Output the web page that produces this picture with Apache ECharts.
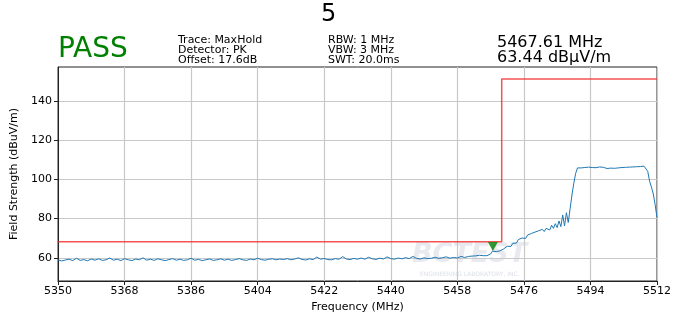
<!DOCTYPE html>
<html>
<head>
<meta charset="utf-8">
<script src="https://cdn.jsdelivr.net/npm/echarts@6/dist/echarts.min.js"></script>
<style>
html, body { margin: 0; padding: 0; background: #fff; }
#chart { width: 673px; height: 318px; }
</style>
</head>
<body>
<div id="chart"></div>
<script>
// sweep 5350..5460 MHz, 1 MHz step
var lowStart = 5350, lowStep = 1;
var lowLevels = [
    59.0, 58.4, 58.9, 59.3, 58.6, 59.8, 58.7, 59.1, 58.5, 59.4, 58.8, 59.5, 58.7, 59.0, 59.9, 58.8, 59.3, 58.6, 59.6, 59.0, 58.6,
    59.4, 59.0, 60.0, 58.8, 59.3, 58.7, 59.5, 59.0, 58.6, 59.1, 59.6, 58.8, 59.3, 58.7, 59.0, 59.8, 58.8, 59.2, 58.6, 59.0,
    59.4, 58.7, 59.0, 59.5, 58.8, 59.3, 58.7, 59.1, 59.6, 59.0, 58.7, 59.4, 59.0, 59.8, 59.1, 58.8, 59.3, 59.5, 59.0, 59.4,
    59.1, 59.6, 59.0, 59.4, 60.0, 59.2, 58.9, 59.5, 59.1, 60.4, 59.3, 59.7, 59.1, 59.0, 59.6, 59.3, 60.6, 59.4, 59.1, 59.7,
    59.3, 59.9, 59.3, 60.3, 59.5, 59.2, 59.8, 59.4, 60.5, 59.6, 59.3, 59.9, 59.5, 60.1, 59.6, 60.7, 59.7, 59.4, 60.0, 59.6,
    59.8, 60.3, 59.7, 60.1, 60.5, 59.8, 60.2, 59.9, 60.7, 60.2
];
// sweep 5460.5..5512 MHz, 0.5 MHz step
var highStart = 5460.5, highStep = 0.5;
var highLevels = [
    60.3, 60.7, 60.2, 60.9, 60.5, 61.0, 60.6, 61.3, 60.8, 61.1, 61.5, 61.1, 61.7, 62.0, 63.4,
    62.7, 63.2, 62.8, 63.5, 63.8, 64.5, 64.9, 65.9, 66.4, 65.8, 67.4, 68.3, 67.5, 69.3, 68.3,
    70.1, 70.6, 69.9, 71.6, 70.7, 72.4, 71.4, 73.1, 72.1, 73.8, 72.8, 74.5, 73.4, 75.0, 75.6,
    74.2, 76.6, 75.0, 77.4, 75.4, 78.8, 75.9, 81.8, 76.3, 83.0, 78.0, 85.0, 92.0, 98.0, 103.0,
    105.8, 106.3, 105.8, 106.7, 106.0, 106.9, 106.2, 107.0, 106.0, 106.6, 105.9, 105.8, 106.3, 105.6, 106.1,
    105.8, 105.5, 106.0, 105.7, 106.3, 105.6, 106.1, 105.8, 106.5, 106.0, 106.7, 106.1, 106.9, 106.2, 106.8,
    106.3, 107.1, 106.4, 107.0, 106.5, 107.3, 106.7, 107.5, 104.0, 99.0, 96.0, 92.5, 87.0, 80.5
];
var limitFreqs = [5350, 5470, 5470, 5512];
var limitLevels = [68.2, 68.2, 151.1, 151.1];
var markerFreq = [5467.61];
var markerLevel = [63.44];
var xTicks = [5350, 5368, 5386, 5404, 5422, 5440, 5458, 5476, 5494, 5512];
var yTicks = [60, 80, 100, 120, 140];

var trace = [];
lowLevels.forEach((v, i) => trace.push([lowStart + i * lowStep, v]));
highLevels.forEach((v, i) => trace.push([highStart + i * highStep, v]));
var limit = limitFreqs.map((f, i) => [f, limitLevels[i]]);
var marker = markerFreq.map((f, i) => [f, markerLevel[i]]);

var font = 'DejaVu Sans';
var chart = echarts.init(document.getElementById('chart'));
chart.setOption({
    animation: false,
    textStyle: { fontFamily: font },
    grid: {
        left: 58,
        right: 16,
        top: 67,
        bottom: 37,
        containLabel: false,
        outerBoundsMode: 'none',
        show: true,
        borderColor: '#222',
        borderWidth: 1
    },
    xAxis: {
        type: 'value',
        min: xTicks[0],
        max: xTicks[xTicks.length - 1],
        interval: 18,
        name: 'Frequency (MHz)',
        nameLocation: 'middle',
        nameGap: 21,
        nameTextStyle: { fontSize: 11, color: '#000', fontFamily: font },
        axisLine: { show: true, lineStyle: { color: '#222' } },
        axisTick: { show: true, inside: false, length: 4, lineStyle: { color: '#222' } },
        axisLabel: {
            fontSize: 11, color: '#000', margin: 5, fontFamily: font,
            showMinLabel: true, showMaxLabel: true,
            formatter: v => String(v)
        },
        splitLine: { show: true, lineStyle: { color: '#c8c8c8', width: 1.2 } }
    },
    yAxis: {
        type: 'value',
        min: 48.2,
        max: 157.2,
        splitNumber: 5,
        name: 'Field Strength (dBuV/m)',
        nameLocation: 'middle',
        nameGap: 30,
        nameTextStyle: { fontSize: 11, color: '#000', fontFamily: font },
        axisLine: { show: true, lineStyle: { color: '#222' } },
        axisTick: { show: true, inside: false, length: 4, customValues: yTicks, lineStyle: { color: '#222' } },
        axisLabel: {
            fontSize: 11, color: '#000', margin: 6, fontFamily: font,
            customValues: yTicks,
            formatter: v => String(v)
        },
        splitLine: { show: true, lineStyle: { color: '#c8c8c8', width: 1.2 } }
    },
    graphic: [
        { type: 'text', left: 321, top: 3, style: { text: '5', font: '24px "DejaVu Sans"', fill: '#000' } },
        { type: 'text', left: 58, top: 36, style: { text: 'PASS', font: '28px "DejaVu Sans"', fill: '#008000' } },
        { type: 'text', left: 178, top: 35, style: { text: 'Trace: MaxHold', font: '11px "DejaVu Sans"', fill: '#000' } },
        { type: 'text', left: 178, top: 45, style: { text: 'Detector: PK', font: '11px "DejaVu Sans"', fill: '#000' } },
        { type: 'text', left: 178, top: 55, style: { text: 'Offset: 17.6dB', font: '11px "DejaVu Sans"', fill: '#000' } },
        { type: 'text', left: 328, top: 35, style: { text: 'RBW: 1 MHz', font: '11px "DejaVu Sans"', fill: '#000' } },
        { type: 'text', left: 328, top: 45, style: { text: 'VBW: 3 MHz', font: '11px "DejaVu Sans"', fill: '#000' } },
        { type: 'text', left: 328, top: 55, style: { text: 'SWT: 20.0ms', font: '11px "DejaVu Sans"', fill: '#000' } },
        { type: 'text', left: 497, top: 35, style: { text: '5467.61 MHz', font: '16px "DejaVu Sans"', fill: '#000' } },
        { type: 'text', left: 497, top: 50, style: { text: '63.44 dBμV/m', font: '16px "DejaVu Sans"', fill: '#000' } },
        { type: 'text', left: 412, top: 241, z: 0, style: { text: 'BCTEST', font: 'italic bold 27px "DejaVu Sans"', fill: 'rgba(150,160,180,0.22)' } },
        { type: 'text', left: 420, top: 271, z: 0, style: { text: 'ENGINEERING LABORATORY, INC.', font: '6px "DejaVu Sans"', fill: 'rgba(150,160,180,0.35)' } }
    ],
    series: [
        {
            type: 'line',
            data: trace,
            showSymbol: false,
            lineStyle: { color: '#1f77b4', width: 1 },
            z: 3
        },
        {
            type: 'line',
            data: limit,
            showSymbol: false,
            lineStyle: { color: 'rgba(240,40,40,0.8)', width: 1.5 },
            z: 2
        },
        {
            type: 'scatter',
            data: marker,
            symbol: 'triangle',
            symbolRotate: 180,
            symbolSize: [10, 9],
            symbolOffset: [0, '-50%'],
            itemStyle: { color: '#008000' },
            z: 4
        }
    ]
});
</script>
</body>
</html>
